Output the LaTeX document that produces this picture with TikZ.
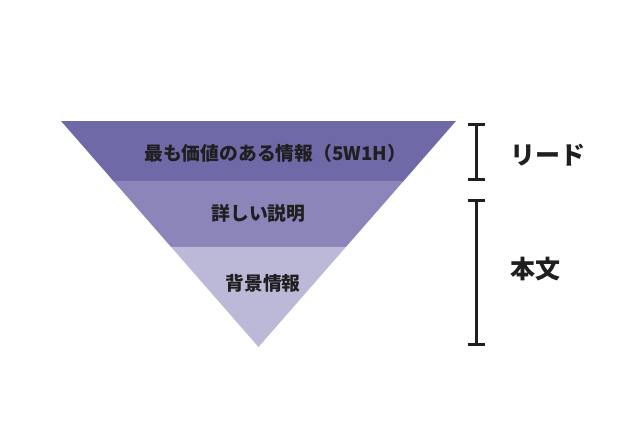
\documentclass[tikz,border=0pt]{standalone}
\usepackage{fontspec}
\newfontfamily\jpfont{Noto Sans CJK JP}
\usetikzlibrary{arrows.meta,calc}

\definecolor{bandtop}{HTML}{6F69A8}
\definecolor{bandmid}{HTML}{8C85B9}
\definecolor{bandlow}{HTML}{BCB8D8}

\begin{document}
\begin{tikzpicture}[
  x=1pt, y=-1pt,
  font=\jpfont\bfseries,
  lbl/.style={text=black!88, inner sep=0pt,
    font=\jpfont\bfseries\fontsize{18.8}{22}\selectfont},
  side/.style={text=black!88, inner sep=0pt, anchor=west,
    font=\jpfont\bfseries\fontsize{25}{29}\selectfont},
  brace/.style={{Bar[width=17pt]}-{Bar[width=17pt]}, line width=3pt, black!88},
]
\useasboundingbox (0,0) rectangle (620,420);

% =========================== inverted pyramid =============================
\coordinate (tl) at (61,121);
\coordinate (tr) at (456,121);
\coordinate (apex) at (258.5,347);

\coordinate (l1) at ($(tl)!0.2655!(apex)$);
\coordinate (r1) at ($(tr)!0.2655!(apex)$);
\coordinate (l2) at ($(tl)!0.5575!(apex)$);
\coordinate (r2) at ($(tr)!0.5575!(apex)$);

\fill[bandtop] (tl) -- (tr) -- (r1) -- (l1) -- cycle;
\fill[bandmid] (l1) -- (r1) -- (r2) -- (l2) -- cycle;
\fill[bandlow] (l2) -- (r2) -- (apex) -- cycle;

\node[lbl, anchor=west] (key)  at (144,153) {最も価値のある情報（5W1H）};
\node[lbl]              (info) at (258.5,213) {詳しい説明};
\node[lbl]              (back) at (263,283) {背景情報};

% =========================== brackets =====================================
\coordinate (b1s) at (476,123);
\coordinate (b1e) at (476,181);
\coordinate (b2s) at (476,199);
\coordinate (b2e) at (476,346);

\draw[brace] (b1s) -- (b1e);
\draw[brace] (b2s) -- (b2e);

\node[side] (lead) at (510,155) {リード};
\node[side] (body) at (510,269) {本文};

\end{tikzpicture}
\end{document}
